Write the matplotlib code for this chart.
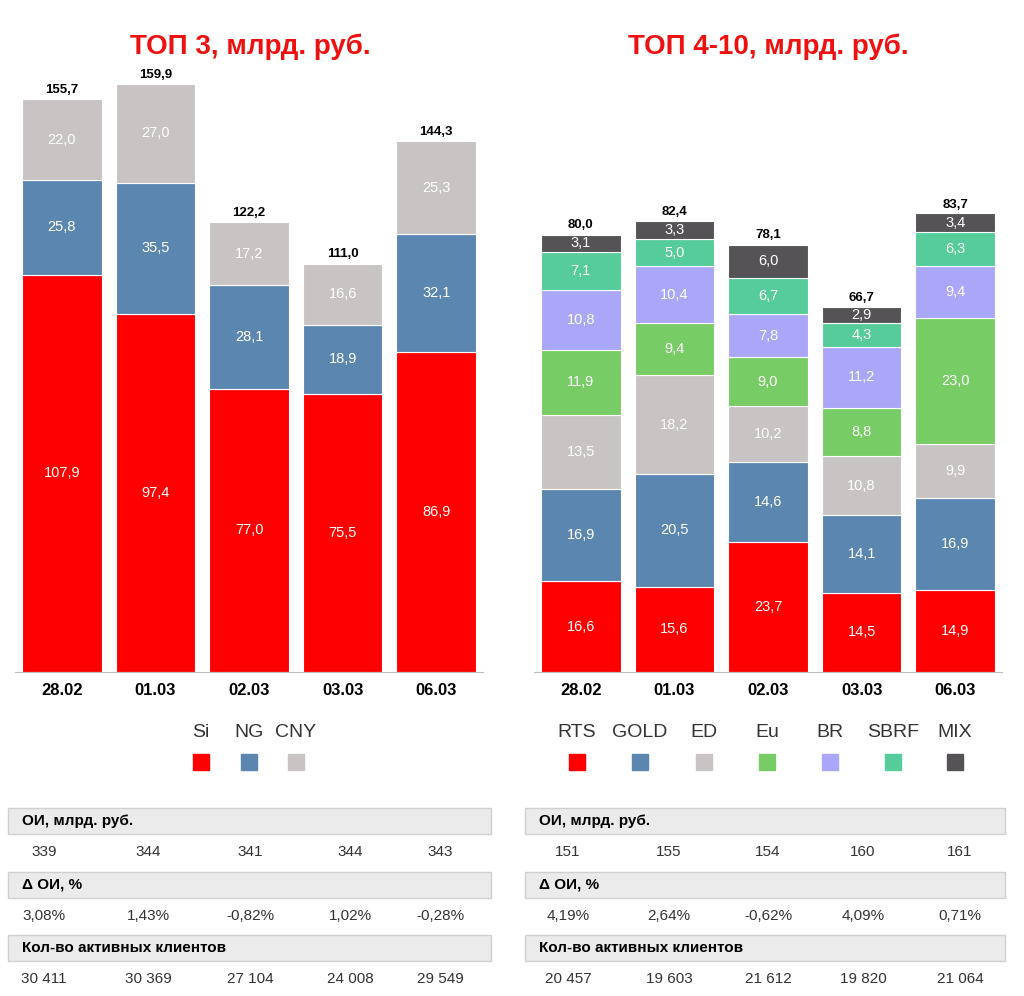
import numpy as np
import matplotlib.pyplot as plt
from matplotlib.patches import Rectangle

plt.rcParams['font.family'] = ['Liberation Sans', 'DejaVu Sans']

dates = ['28.02', '01.03', '02.03', '03.03', '06.03']

# left chart: TOP 3
top3_names = ['Si', 'NG', 'CNY']
si = [107.9, 97.4, 77.0, 75.5, 86.9]
ng = [25.8, 35.5, 28.1, 18.9, 32.1]
cny = [22.0, 27.0, 17.2, 16.6, 25.3]
top3_totals = [155.7, 159.9, 122.2, 111.0, 144.3]

# right chart: TOP 4-10
top10_names = ['RTS', 'GOLD', 'ED', 'Eu', 'BR', 'SBRF', 'MIX']
rts = [16.6, 15.6, 23.7, 14.5, 14.9]
gold = [16.9, 20.5, 14.6, 14.1, 16.9]
ed = [13.5, 18.2, 10.2, 10.8, 9.9]
eu = [11.9, 9.4, 9.0, 8.8, 23.0]
br = [10.8, 10.4, 7.8, 11.2, 9.4]
sbrf = [7.1, 5.0, 6.7, 4.3, 6.3]
mix = [3.1, 3.3, 6.0, 2.9, 3.4]
top10_totals = [80.0, 82.4, 78.1, 66.7, 83.7]

# tables
left_oi = ['339', '344', '341', '344', '343']
left_doi = ['3,08%', '1,43%', '-0,82%', '1,02%', '-0,28%']
left_clients = ['30 411', '30 369', '27 104', '24 008', '29 549']
right_oi = ['151', '155', '154', '160', '161']
right_doi = ['4,19%', '2,64%', '-0,62%', '4,09%', '0,71%']
right_clients = ['20 457', '19 603', '21 612', '19 820', '21 064']

top3_colors = ['#FF0000', '#5B86AF', '#C9C4C4']
top10_colors = ['#FF0000', '#5B86AF', '#C9C4C4', '#77CC66', '#AAA6F8', '#55CC99', '#555356']

W, H = 1024, 996
fig = plt.figure(figsize=(W / 100, H / 100), dpi=100)


def fx(px):
    return px / W


def fy(py):
    return 1 - py / H


def stacked(ax, series, colors, totals, ymax):
    x = np.arange(len(dates))
    bottom = np.zeros(len(dates))
    for vals, c in zip(series, colors):
        ax.bar(x, vals, 0.85, bottom=bottom, color=c, edgecolor='white', linewidth=0.8)
        for i, v in enumerate(vals):
            ax.text(x[i], bottom[i] + v / 2, f'{v:.1f}'.replace('.', ','),
                    ha='center', va='center', color='white', fontsize=10.5)
        bottom += np.array(vals)
    for i, t in enumerate(totals):
        ax.text(x[i], t + ymax * 0.005, f'{t:.1f}'.replace('.', ','), ha='center', va='bottom',
                fontsize=9.5, fontweight='bold')
    ax.set_xlim(-0.5, len(dates) - 0.5)
    ax.set_ylim(0, ymax)
    ax.set_xticks(x)
    ax.set_xticklabels(dates, fontsize=12, fontweight='bold')
    ax.tick_params(axis='x', length=0, pad=8)
    ax.set_yticks([])
    for s in ['top', 'left', 'right']:
        ax.spines[s].set_visible(False)
    ax.spines['bottom'].set_color('#BBBBBB')


ax1 = fig.add_axes([fx(15), fy(672), fx(468), fy(60) - fy(672)])
stacked(ax1, [si, ng, cny], top3_colors, top3_totals, 612 / 3.68)
ax2 = fig.add_axes([fx(534), fy(672), fx(468), fy(60) - fy(672)])
stacked(ax2, [rts, gold, ed, eu, br, sbrf, mix], top10_colors, top10_totals, 612 / 5.475)

fig.text(fx(250), fy(47), 'ТОП 3, млрд. руб.', color='#EE1111', fontsize=20,
         fontweight='bold', ha='center', va='center')
fig.text(fx(768), fy(47), 'ТОП 4-10, млрд. руб.', color='#EE1111', fontsize=20,
         fontweight='bold', ha='center', va='center')


def legend(names, colors, xs):
    for n, c, x in zip(names, colors, xs):
        fig.text(fx(x), fy(732), n, ha='center', va='center', fontsize=14, color='#333333')
        fig.patches.append(Rectangle((fx(x - 8), fy(770)), fx(16), fy(754) - fy(770),
                                     transform=fig.transFigure, color=c))


legend(top3_names, top3_colors, [201, 249, 296])
legend(top10_names, top10_colors, [577, 640, 704, 767, 830, 893, 955])


def table(x0, x1, xs, rows):
    heads = ['ОИ, млрд. руб.', 'Δ ОИ, %', 'Кол-во активных клиентов']
    for k, (head, vals) in enumerate(zip(heads, rows)):
        yh = 821 + 63.5 * k
        fig.patches.append(Rectangle((fx(x0), fy(yh + 13)), fx(x1 - x0), fy(yh - 13) - fy(yh + 13),
                                     transform=fig.transFigure, facecolor='#EBEBEB',
                                     edgecolor='#D0D0D0', linewidth=1))
        fig.text(fx(x0 + 14), fy(yh), head, fontsize=11, fontweight='bold', va='center')
        for x, v in zip(xs, vals):
            fig.text(fx(x), fy(yh + 31), v, fontsize=11, ha='center', va='center', color='#333333')


table(8, 491, [44, 148, 250, 350, 440], [left_oi, left_doi, left_clients])
table(525, 1005, [568, 669, 768, 863, 960], [right_oi, right_doi, right_clients])

fig.savefig('out.png', dpi=100)
